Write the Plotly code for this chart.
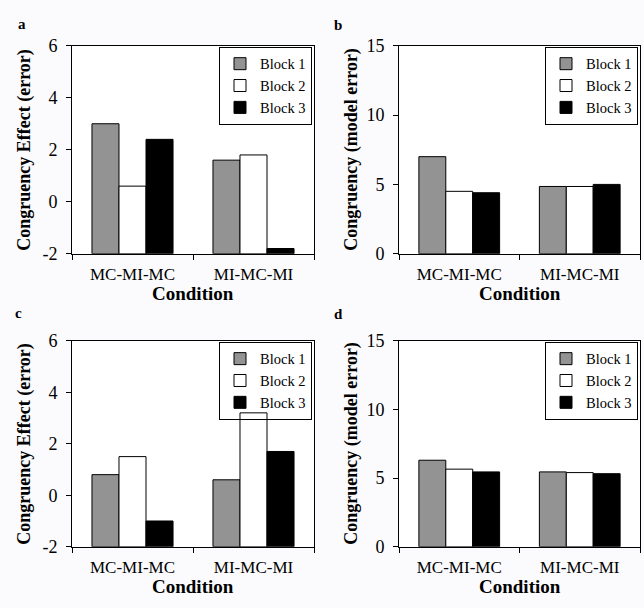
import plotly.graph_objects as go

conditions = ["MC-MI-MC", "MI-MC-MI"]
blocks = ["Block 1", "Block 2", "Block 3"]
colors = ["#939393", "#ffffff", "#000000"]

# panel a: Congruency Effect (error)
a_vals = [[3.0, 1.6], [0.6, 1.8], [2.4, -1.8]]
# panel b: Congruency (model error)
b_vals = [[7.0, 4.85], [4.5, 4.85], [4.4, 5.0]]
# panel c: Congruency Effect (error)
c_vals = [[0.8, 0.6], [1.5, 3.2], [-1.0, 1.7]]
# panel d: Congruency (model error)
d_vals = [[6.3, 5.45], [5.65, 5.4], [5.45, 5.32]]

effect_ticks = [-2, 0, 2, 4, 6]
model_ticks = [0, 5, 10, 15]

W, H = 644, 608
FONT = "Liberation Serif, Times New Roman, serif"

panels = [
    dict(vals=a_vals, base=-2, rng=[-2, 6], ticks=effect_ticks, title="Congruency Effect (error)",
         letter="a", x0=72, x1=314, y0=37, y1=252, xa="x", ya="y", leg="legend"),
    dict(vals=b_vals, base=0, rng=[0, 15], ticks=model_ticks, title="Congruency (model error)",
         letter="b", x0=399, x1=640, y0=37, y1=252, xa="x2", ya="y2", leg="legend2"),
    dict(vals=c_vals, base=-2, rng=[-2, 6], ticks=effect_ticks, title="Congruency Effect (error)",
         letter="c", x0=72, x1=314, y0=342, y1=555, xa="x3", ya="y3", leg="legend3"),
    dict(vals=d_vals, base=0, rng=[0, 15], ticks=model_ticks, title="Congruency (model error)",
         letter="d", x0=399, x1=640, y0=342, y1=555, xa="x4", ya="y4", leg="legend4"),
]

fig = go.Figure()
layout = dict(
    width=W, height=H, margin=dict(l=0, r=0, t=0, b=0),
    paper_bgcolor="#fbfbfd", plot_bgcolor="#ffffff",
    barmode="group", bargap=0.33, bargroupgap=0,
    font=dict(family=FONT, size=16, color="black"),
    annotations=[],
)

letter_pos = {"a": (22, 14), "b": (338, 15), "c": (18, 313), "d": (338, 314)}

for i, p in enumerate(panels):
    n = "" if i == 0 else str(i + 1)
    for k, (blk, col) in enumerate(zip(blocks, colors)):
        fig.add_trace(go.Bar(
            x=conditions, y=[v - p["base"] for v in p["vals"][k]], base=p["base"],
            name=blk, marker=dict(color=col, line=dict(color="black", width=1)),
            xaxis=p["xa"], yaxis=p["ya"], legend=p["leg"],
        ))
    layout["xaxis" + n] = dict(
        domain=[p["x0"] / W, p["x1"] / W], anchor=p["ya"],
        showline=True, linecolor="black", linewidth=1, mirror=True,
        ticks="outside", ticklen=5, tickcolor="black", tickson="boundaries",
        showgrid=False, tickfont=dict(size=17), ticklabelstandoff=5,
    )
    layout["yaxis" + n] = dict(
        domain=[1 - p["y1"] / H, 1 - p["y0"] / H], anchor=p["xa"],
        range=p["rng"], tickvals=p["ticks"], ticktext=[str(t) for t in p["ticks"]],
        showline=True, linecolor="black", linewidth=1, mirror=True,
        ticks="outside", ticklen=5, tickcolor="black",
        showgrid=False, zeroline=False, tickfont=dict(size=18), ticklabelstandoff=5,
    )
    layout["legend" + ("" if i == 0 else str(i + 1))] = dict(
        x=(p["x1"] - 2) / W, xanchor="right", y=1 - (p["y0"] + 1) / H, yanchor="top",
        xref="paper", yref="paper",
        bordercolor="black", borderwidth=1, bgcolor="rgba(255,255,255,0)",
        font=dict(size=14.5, family=FONT), tracegroupgap=0, itemwidth=30,
    )
    # y title
    layout["annotations"].append(dict(
        text="<b>%s</b>" % p["title"], x=(p["x0"] - 47) / W, y=1 - (p["y0"] + p["y1"]) / 2 / H,
        xref="paper", yref="paper", showarrow=False, textangle=-90,
        font=dict(size=18, family=FONT), xanchor="center", yanchor="middle",
    ))
    # x title
    layout["annotations"].append(dict(
        text="<b>Condition</b>", x=(p["x0"] + p["x1"]) / 2 / W, y=1 - (p["y1"] + 41) / H,
        xref="paper", yref="paper", showarrow=False,
        font=dict(size=19, family=FONT), xanchor="center", yanchor="middle",
    ))
    lx, ly = letter_pos[p["letter"]]
    layout["annotations"].append(dict(
        text="<b>%s</b>" % p["letter"], x=lx / W, y=1 - ly / H,
        xref="paper", yref="paper", showarrow=False,
        font=dict(size=15, family=FONT), xanchor="center", yanchor="middle",
    ))

fig.update_layout(**layout)
fig.write_html(
    "out.html",
    config={"displayModeBar": False},
    post_script="document.body.style.margin='0';document.body.style.overflow='hidden';",
)
